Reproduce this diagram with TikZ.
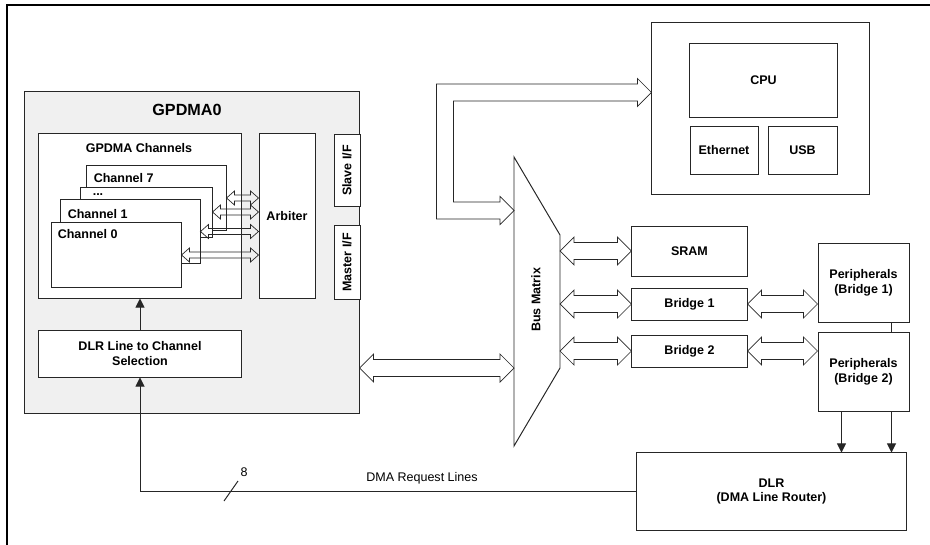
\documentclass[tikz,border=0pt]{standalone}
\usepackage{fontspec}
\setmainfont{Liberation Sans}
\usetikzlibrary{arrows.meta,calc,positioning}

% hollow two-headed bus arrow, horizontal, at the height of #1
\newcommand{\dblarrow}[5]{%
  \draw[busline] let \p1=(#1), \p2=(#2) in
    (\x1,\y1) -- (\x1+#5,\y1+#4) -- (\x1+#5,\y1+#3) -- (\x2-#5,\y1+#3)
    -- (\x2-#5,\y1+#4) -- (\x2,\y1) -- (\x2-#5,\y1-#4) -- (\x2-#5,\y1-#3)
    -- (\x1+#5,\y1-#3) -- (\x1+#5,\y1-#4) -- cycle;}
\newcommand{\busarrow}[2]{\dblarrow{#1}{#2}{6pt}{10pt}{10pt}}
\newcommand{\chanarrow}[2]{\dblarrow{#1}{#2}{2.2pt}{5pt}{5.7pt}}

\begin{document}
\begin{tikzpicture}[
  x=0.025cm, y=-0.025cm,
  every node/.style={font=\fontsize{8.9}{10.5}\selectfont\bfseries},
  blk/.style={draw=black!85, line width=0.7pt, fill=white, align=center, inner sep=0pt},
  lbl/.style={inner sep=0pt},
  plain/.style={inner sep=0pt, font=\fontsize{8.9}{10.5}\selectfont},
  busline/.style={draw=black!85, line width=0.5pt},
  req/.style={draw=black!85, line width=0.7pt},
  arr/.style={req, -{Triangle[length=6.5pt,width=6.5pt]}},
]
\useasboundingbox (0,0) rectangle (930,545);
\draw[line width=1.1pt] (7,545) -- (7,5) -- (930,5);

% GPDMA0 block
\node[blk, fill=black!6, minimum width=8.35cm, minimum height=8.025cm] (gpdma) at (192,252.5) {};
\node[font=\fontsize{11.5}{13}\selectfont\bfseries] (gptitle) at (187,110) {GPDMA0};
\node[blk, minimum width=5.05cm, minimum height=4.1cm] (chans) at (140,216) {};
\node (chtitle) at (139,148) {GPDMA Channels};
\node[blk, minimum width=3.475cm, minimum height=1.6cm] (ch7) at (156.5,198) {};
\node[blk, minimum width=3.275cm, minimum height=1.25cm] (chdots) at (146.5,212) {};
\node[blk, minimum width=3.475cm, minimum height=1.575cm] (ch1) at (130.5,231.5) {};
\node[blk, minimum width=3.225cm, minimum height=1.6cm] (ch0) at (116.5,255) {};
\node[lbl, anchor=west] (ch7txt) at ($(ch7.north west)+(7,13)$) {Channel 7};
\node[lbl, anchor=base west] (dotstxt) at ($(chdots.north west)+(12,9)$) {...};
\node[lbl, anchor=west] (ch1txt) at ($(ch1.north west)+(7,15)$) {Channel 1};
\node[lbl, anchor=west] (ch0txt) at ($(ch0.north west)+(6,12)$) {Channel 0};
\node[blk, minimum width=1.4cm, minimum height=4.1cm] (arbiter) at (287,216) {Arbiter};
\node[blk, rotate=90, minimum width=1.775cm, minimum height=0.65cm] (slave) at (347,170.5) {Slave I/F};
\node[blk, rotate=90, minimum width=1.825cm, minimum height=0.65cm] (master) at (347,262.5) {Master I/F};
\chanarrow{ch7.east}{arbiter.west}
\chanarrow{chdots.east}{arbiter.west}
\chanarrow{ch1.east}{arbiter.west}
\chanarrow{ch0.east}{arbiter.west}
\node[blk, minimum width=5.05cm, minimum height=1.175cm] (dlrsel) at (140,353.5) {DLR Line to Channel\\Selection};
\draw[arr] (dlrsel.north) -- (chans.south);

% CPU side
\node[blk, minimum width=5.425cm, minimum height=4.275cm] (cpusys) at (760.5,108.5) {};
\node[blk, minimum width=3.675cm, minimum height=1.825cm] (cpu) at (763.5,80.5) {CPU};
\node[blk, minimum width=1.7cm, minimum height=1.2cm] (eth) at (724,150) {Ethernet};
\node[blk, minimum width=1.725cm, minimum height=1.2cm] (usb) at (802.5,150) {USB};

% bus matrix
\coordinate (bm1) at (514,157);
\coordinate (bm2) at (560,235);
\coordinate (bm3) at (560,368);
\coordinate (bm4) at (514,446);
\draw[req] (bm1) -- (bm2) -- (bm3) -- (bm4) -- cycle;
\node[rotate=90] (busmx) at (536,300) {Bus Matrix};
\coordinate (busL) at (514,368);
\coordinate (busR) at (560,300);
\coordinate (busU) at (514,210.5);
\coordinate (bend) at (445,0);

\node[blk, minimum width=2.875cm, minimum height=1.25cm] (sram) at (689.5,251) {SRAM};
\node[blk, minimum width=2.875cm, minimum height=0.8cm] (br1) at (689.5,304) {Bridge 1};
\node[blk, minimum width=2.875cm, minimum height=0.8cm] (br2) at (689.5,351) {Bridge 2};
\node[blk, minimum width=2.275cm, minimum height=1.95cm] (per1) at (863.5,283) {Peripherals\\(Bridge 1)};
\node[blk, minimum width=2.275cm, minimum height=1.95cm] (per2) at (863.5,372) {Peripherals\\(Bridge 2)};
\node[blk, minimum width=6.725cm, minimum height=1.925cm] (dlr) at (771.5,491.5) {DLR\\(DMA Line Router)};

\busarrow{gpdma.east |- busL}{busL}
\busarrow{busR |- sram.west}{sram.west}
\busarrow{busR |- br1.west}{br1.west}
\busarrow{busR |- br2.west}{br2.west}
\busarrow{br1.east}{per1.west}
\busarrow{br2.east}{per2.west}
\draw[busline] let \p1=(busU), \p2=($(cpusys.north west)+(0,70)$), \p3=(bend) in
  (\x1,\y1) -- (\x1-10pt,\y1+10pt) -- (\x1-10pt,\y1+6pt) -- (\x3+6pt,\y1+6pt)
  -- (\x3+6pt,\y2-6pt) -- (\x2-10pt,\y2-6pt) -- (\x2-10pt,\y2-10pt) -- (\x2,\y2)
  -- (\x2-10pt,\y2+10pt) -- (\x2-10pt,\y2+6pt) -- (\x3-6pt,\y2+6pt)
  -- (\x3-6pt,\y1-6pt) -- (\x1-10pt,\y1-6pt) -- (\x1-10pt,\y1-10pt) -- cycle;

% request lines
\coordinate (p1a) at ($(per1.south east)+(-18,0)$);
\coordinate (p2a) at ($(per2.south west)+(24,0)$);
\coordinate (p2b) at ($(per2.south east)+(-18,0)$);
\draw[req] (p1a) -- (p1a |- per2.north);
\draw[arr] (p2a) -- (p2a |- dlr.north);
\draw[arr] (p2b) -- (p2b |- dlr.north);
\draw[arr] (dlr.west) -| (dlrsel.south);
\node[plain] (reqtxt) at (422,478) {DMA Request Lines};
\draw[req] (224,501) -- (238,481);
\node[plain] (width) at (244,472) {8};
\end{tikzpicture}
\end{document}
